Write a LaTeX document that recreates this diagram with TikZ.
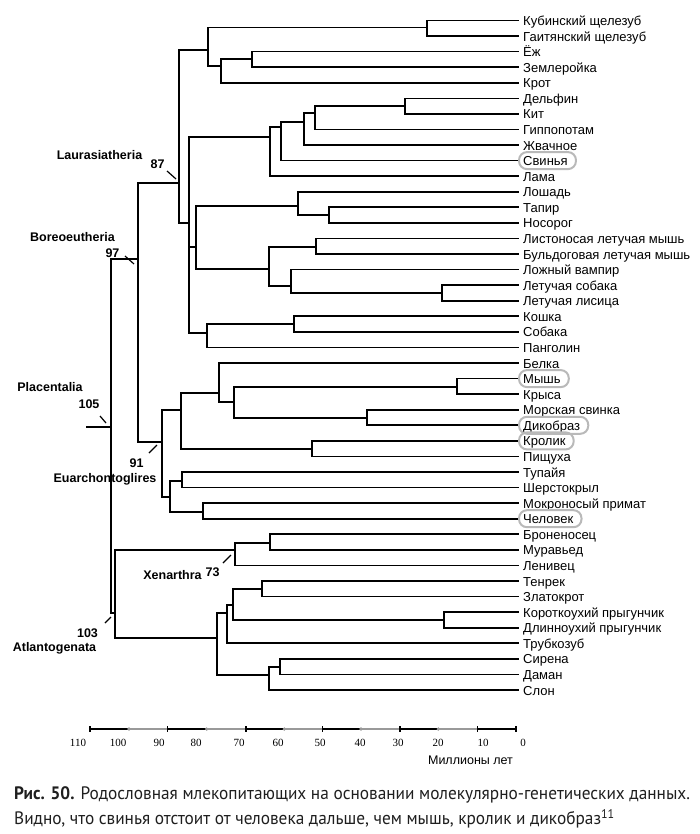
\documentclass[tikz,border=0pt]{standalone}
\usepackage{fontspec}
\setmainfont{Liberation Sans}
\newfontfamily\axisfont{Liberation Serif}
\newfontfamily\capfont[FakeStretch=0.96]{PT Sans}
\usetikzlibrary{calc}

\begin{document}
\begin{tikzpicture}[x=1pt, y=-1pt,
	branch/.style={line width=1.7pt, line cap=rect},
	leaf/.style={anchor=west, inner xsep=5pt, inner ysep=0pt, text height=10pt, text depth=0pt, font=\fontsize{13}{15}\selectfont},
	clade/.style={inner sep=0pt, font=\bfseries\fontsize{12.5}{14}\selectfont},
	cladetick/.style={line width=1.2pt},
	ring/.style={draw=gray!55, line width=2pt, rounded corners=8pt},
	tick label/.style={font=\axisfont\fontsize{11}{12}\selectfont},
	caption/.style={anchor=west, inner sep=0pt, text=black!88, font=\capfont\fontsize{18}{20}\selectfont}]

	\useasboundingbox (0,0) rectangle (700,834);

% Define leaves.

	\node[leaf] (kub) at (518, 20.5) {Кубинский щелезуб};
	\node[leaf] (gai) at (518, 36.1) {Гаитянский щелезуб};
	\node[leaf] (ezh) at (518, 51.6) {Ёж};
	\node[leaf] (zem) at (518, 67.2) {Землеройка};
	\node[leaf] (krot) at (518, 82.8) {Крот};
	\node[leaf] (delf) at (518, 98.4) {Дельфин};
	\node[leaf] (kit) at (518, 113.9) {Кит};
	\node[leaf] (gipp) at (518, 129.5) {Гиппопотам};
	\node[leaf] (zhv) at (518, 145.1) {Жвачное};
	\node[leaf] (svin) at (518, 160.6) {Свинья};
	\node[leaf] (lama) at (518, 176.2) {Лама};
	\node[leaf] (losh) at (518, 191.8) {Лошадь};
	\node[leaf] (tap) at (518, 207.3) {Тапир};
	\node[leaf] (nos) at (518, 222.9) {Носорог};
	\node[leaf] (list) at (518, 238.5) {Листоносая летучая мышь};
	\node[leaf] (buld) at (518, 254.1) {Бульдоговая летучая мышь};
	\node[leaf] (vamp) at (518, 269.6) {Ложный вампир};
	\node[leaf] (lsob) at (518, 285.2) {Летучая собака};
	\node[leaf] (llis) at (518, 300.8) {Летучая лисица};
	\node[leaf] (kosh) at (518, 316.3) {Кошка};
	\node[leaf] (sob) at (518, 331.9) {Собака};
	\node[leaf] (pang) at (518, 347.5) {Панголин};
	\node[leaf] (belk) at (518, 363.0) {Белка};
	\node[leaf] (mysh) at (518, 378.6) {Мышь};
	\node[leaf] (krys) at (518, 394.2) {Крыса};
	\node[leaf] (msv) at (518, 409.8) {Морская свинка};
	\node[leaf] (dik) at (518, 425.3) {Дикобраз};
	\node[leaf] (krol) at (518, 440.9) {Кролик};
	\node[leaf] (pishch) at (518, 456.5) {Пищуха};
	\node[leaf] (tup) at (518, 472.0) {Тупайя};
	\node[leaf] (sher) at (518, 487.6) {Шерстокрыл};
	\node[leaf] (mokr) at (518, 503.2) {Мокроносый примат};
	\node[leaf] (chel) at (518, 518.7) {Человек};
	\node[leaf] (bron) at (518, 534.3) {Броненосец};
	\node[leaf] (mur) at (518, 549.9) {Муравьед};
	\node[leaf] (len) at (518, 565.5) {Ленивец};
	\node[leaf] (tenr) at (518, 581.0) {Тенрек};
	\node[leaf] (zlat) at (518, 596.6) {Златокрот};
	\node[leaf] (kor) at (518, 612.2) {Короткоухий прыгунчик};
	\node[leaf] (dlin) at (518, 627.7) {Длинноухий прыгунчик};
	\node[leaf] (trub) at (518, 643.3) {Трубкозуб};
	\node[leaf] (sir) at (518, 658.9) {Сирена};
	\node[leaf] (dam) at (518, 674.4) {Даман};
	\node[leaf] (slon) at (518, 690.0) {Слон};

% Define branch points.

	%Laurasiatheria
	\coordinate (nSol) at (427, 27.5);
	\coordinate (nEul) at (252, 59);
	\coordinate (nShr) at (221, 66);
	\coordinate (nEuli) at (208, 50);
	\coordinate (nWh) at (405, 106);
	\coordinate (nHip) at (315, 113);
	\coordinate (nRum) at (304, 122);
	\coordinate (nSui) at (281, 127);
	\coordinate (nCet) at (270, 137);
	\coordinate (nRhi) at (329, 215);
	\coordinate (nPer) at (298, 206);
	\coordinate (nMic) at (316, 247);
	\coordinate (nPte) at (442, 293);
	\coordinate (nYin) at (291, 286);
	\coordinate (nChi) at (269, 269);
	\coordinate (nSco) at (196, 247);
	\coordinate (nCar) at (294, 324);
	\coordinate (nFer) at (207, 333);
	\coordinate (nFeru) at (189, 223);
	\coordinate (nLaur) at (179, 183);

	%Euarchontoglires
	\coordinate (nMur) at (457, 387);
	\coordinate (nHys) at (367, 418);
	\coordinate (nRodb) at (234, 402);
	\coordinate (nRod) at (219, 393);
	\coordinate (nLag) at (312, 449);
	\coordinate (nGli) at (181, 410);
	\coordinate (nSun) at (182, 481);
	\coordinate (nPri) at (203, 512);
	\coordinate (nEua) at (170, 497);
	\coordinate (nEuar) at (162, 442);
	\coordinate (nBor) at (138, 259);

	%Atlantogenata
	\coordinate (nCin) at (270, 543);
	\coordinate (nXen) at (235, 550);
	\coordinate (nTen) at (262, 589);
	\coordinate (nMac) at (444, 620);
	\coordinate (nAfi) at (233, 605);
	\coordinate (nAfrb) at (227, 613);
	\coordinate (nSir) at (280, 667);
	\coordinate (nPae) at (269, 675);
	\coordinate (nAfr) at (217, 638);
	\coordinate (nAtl) at (115, 613);

	%root
	\coordinate (nPla) at (111, 427);
	\coordinate (root) at (87, 427);

% Draw branches.

	\draw[branch] (nSol) |- (kub.west) (nSol) |- (gai.west);
	\draw[branch] (nEul) |- (ezh.west) (nEul) |- (zem.west);
	\draw[branch] (nShr) |- (nEul) (nShr) |- (krot.west);
	\draw[branch] (nEuli) |- (nSol) (nEuli) |- (nShr);
	\draw[branch] (nWh) |- (delf.west) (nWh) |- (kit.west);
	\draw[branch] (nHip) |- (nWh) (nHip) |- (gipp.west);
	\draw[branch] (nRum) |- (nHip) (nRum) |- (zhv.west);
	\draw[branch] (nSui) |- (nRum) (nSui) |- (svin.west);
	\draw[branch] (nCet) |- (nSui) (nCet) |- (lama.west);
	\draw[branch] (nRhi) |- (tap.west) (nRhi) |- (nos.west);
	\draw[branch] (nPer) |- (losh.west) (nPer) |- (nRhi);
	\draw[branch] (nMic) |- (list.west) (nMic) |- (buld.west);
	\draw[branch] (nPte) |- (lsob.west) (nPte) |- (llis.west);
	\draw[branch] (nYin) |- (vamp.west) (nYin) |- (nPte);
	\draw[branch] (nChi) |- (nMic) (nChi) |- (nYin);
	\draw[branch] (nSco) |- (nPer) (nSco) |- (nChi);
	\draw[branch] (nCar) |- (kosh.west) (nCar) |- (sob.west);
	\draw[branch] (nFer) |- (nCar) (nFer) |- (pang.west);
	\draw[branch] (nFeru) |- (nCet) (nFeru) |- (nSco) (nFeru) |- (nFer);
	\draw[branch] (nLaur) |- (nEuli) (nLaur) |- (nFeru);

	\draw[branch] (nMur) |- (mysh.west) (nMur) |- (krys.west);
	\draw[branch] (nHys) |- (msv.west) (nHys) |- (dik.west);
	\draw[branch] (nRodb) |- (nMur) (nRodb) |- (nHys);
	\draw[branch] (nRod) |- (belk.west) (nRod) |- (nRodb);
	\draw[branch] (nLag) |- (krol.west) (nLag) |- (pishch.west);
	\draw[branch] (nGli) |- (nRod) (nGli) |- (nLag);
	\draw[branch] (nSun) |- (tup.west) (nSun) |- (sher.west);
	\draw[branch] (nPri) |- (mokr.west) (nPri) |- (chel.west);
	\draw[branch] (nEua) |- (nSun) (nEua) |- (nPri);
	\draw[branch] (nEuar) |- (nGli) (nEuar) |- (nEua);
	\draw[branch] (nBor) |- (nLaur) (nBor) |- (nEuar);

	\draw[branch] (nCin) |- (bron.west) (nCin) |- (mur.west);
	\draw[branch] (nXen) |- (nCin) (nXen) |- (len.west);
	\draw[branch] (nTen) |- (tenr.west) (nTen) |- (zlat.west);
	\draw[branch] (nMac) |- (kor.west) (nMac) |- (dlin.west);
	\draw[branch] (nAfi) |- (nTen) (nAfi) |- (nMac);
	\draw[branch] (nAfrb) |- (nAfi) (nAfrb) |- (trub.west);
	\draw[branch] (nSir) |- (sir.west) (nSir) |- (dam.west);
	\draw[branch] (nPae) |- (nSir) (nPae) |- (slon.west);
	\draw[branch] (nAfr) |- (nAfrb) (nAfr) |- (nPae);
	\draw[branch] (nAtl) |- (nXen) (nAtl) |- (nAfr);

	\draw[branch] (nPla) |- (nBor) (nPla) |- (nAtl);
	\draw[branch] (root) -- (nPla);

% Draw clade labels.

	\node[clade] (laurT) at (99.5, 155) {Laurasiatheria};
	\node[clade] (laurN) at (157.5, 164) {87};
	\node[clade] (borT) at (72.5, 237) {Boreoeutheria};
	\node[clade] (borN) at (112.5, 253) {97};
	\node[clade] (plaT) at (50, 387) {Placentalia};
	\node[clade] (plaN) at (89, 404) {105};
	\node[clade] (euaN) at (136.5, 463) {91};
	\node[clade] (euaT) at (105, 479) {Euarchontoglires};
	\node[clade] (xenT) at (172.5, 575) {Xenarthra};
	\node[clade] (xenN) at (212.5, 572) {73};
	\node[clade] (atlN) at (87.5, 633) {103};
	\node[clade] (atlT) at (54.5, 648) {Atlantogenata};

	\coordinate (tLaurA) at (167, 171);
	\coordinate (tLaurB) at (176, 179);
	\coordinate (tBorA) at (125, 256);
	\coordinate (tBorB) at (134, 264);
	\coordinate (tPlaA) at (100, 416);
	\coordinate (tPlaB) at (106, 423);
	\coordinate (tEuaA) at (149, 453);
	\coordinate (tEuaB) at (157, 445);
	\coordinate (tXenA) at (223, 563);
	\coordinate (tXenB) at (231, 555);
	\coordinate (tAtlA) at (105, 623);
	\coordinate (tAtlB) at (111, 617);

	\draw[cladetick] (tLaurA) -- (tLaurB);
	\draw[cladetick] (tBorA) -- (tBorB);
	\draw[cladetick] (tPlaA) -- (tPlaB);
	\draw[cladetick] (tEuaA) -- (tEuaB);
	\draw[cladetick] (tXenA) -- (tXenB);
	\draw[cladetick] (tAtlA) -- (tAtlB);

% Mark pig, mouse, porcupine, rabbit and human.

	\draw[ring] ($(svin.west)+(1,-8.5)$) rectangle ($(svin.east)+(3,8.5)$);
	\draw[ring] ($(mysh.west)+(1,-8.5)$) rectangle ($(mysh.east)+(3,8.5)$);
	\draw[ring] ($(dik.west)+(1,-8.5)$) rectangle ($(dik.east)+(3,8.5)$);
	\draw[ring] ($(krol.west)+(1,-8.5)$) rectangle ($(krol.east)+(3,8.5)$);
	\draw[ring] ($(chel.west)+(1,-8.5)$) rectangle ($(chel.east)+(3,8.5)$);

% Draw time axis.

	\draw[line width=1.5pt, gray!80] (90,729) -- (516,729);
	\draw[line width=2pt] (90,729) -- (129,729) (167.7,729) -- (206.7,729) (246,729) -- (284.3,729)
		(322.7,729) -- (361,729) (400,729) -- (438.3,729) (477.3,729) -- (516,729);
	\draw[line width=1.2pt] (90,726) -- (90,732) (167.7,726) -- (167.7,732) (246,726) -- (246,732)
		(322.7,726) -- (322.7,732) (400,726) -- (400,732) (477.3,726) -- (477.3,732) (516,726) -- (516,732);
	\fill[gray!80] (129,729) circle (1.8) (206.7,729) circle (1.8) (284.3,729) circle (1.8)
		(361,729) circle (1.8) (438.3,729) circle (1.8);

	\node[tick label] (t110) at (78,743) {110};
	\node[tick label] (t100) at (118,743) {100};
	\node[tick label] (t90) at (159,743) {90};
	\node[tick label] (t80) at (196,743) {80};
	\node[tick label] (t70) at (239,743) {70};
	\node[tick label] (t60) at (278,743) {60};
	\node[tick label] (t50) at (320,743) {50};
	\node[tick label] (t40) at (360,743) {40};
	\node[tick label] (t30) at (398,743) {30};
	\node[tick label] (t20) at (438,743) {20};
	\node[tick label] (t10) at (483,743) {10};
	\node[tick label] (t0) at (523,743) {0};
	\node[font=\fontsize{12.5}{14}\selectfont] (unit) at (470.5,760) {Миллионы лет};

% Caption.

	\node[caption] (capA) at (14,795)
		{\textbf{Рис. 50.} Родословная млекопитающих на основании молекулярно-генетических данных.};
	\node[caption] (capB) at (14,819)
		{Видно, что свинья отстоит от человека дальше, чем мышь, кролик и дикобраз\textsuperscript{11}};

\end{tikzpicture}
\end{document}
